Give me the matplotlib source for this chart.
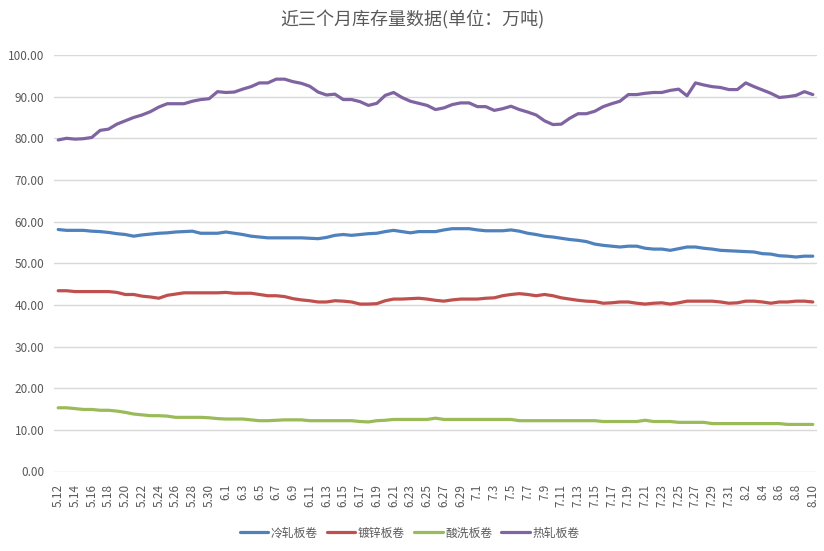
import matplotlib.pyplot as plt
import numpy as np
import pandas as pd

plt.rcParams['font.family'] = ['Noto Sans CJK SC', 'DejaVu Sans']

# daily dates 5.12 -> 8.10
dates = pd.date_range("2020-05-12", "2020-08-10", freq="D")
date_labels = [f"{d.month}.{d.day}" for d in dates]

series_names = ["冷轧板卷", "镀锌板卷", "酸洗板卷", "热轧板卷"]

cold_rolled = [58.1, 57.9, 57.9, 57.9, 57.7, 57.6, 57.4, 57.1, 56.9, 56.5, 56.8, 57.0, 57.2, 57.3, 57.5, 57.6,
               57.7, 57.2, 57.2, 57.2, 57.5, 57.2, 56.9, 56.5, 56.3, 56.1, 56.1, 56.1, 56.1, 56.1, 56.0,
               55.9, 56.2, 56.7, 56.9, 56.7, 56.9, 57.1, 57.2, 57.6, 57.9, 57.6, 57.3, 57.6, 57.6, 57.6, 58.0,
               58.3, 58.3, 58.3, 58.0, 57.8, 57.8, 57.8, 58.0, 57.7, 57.2, 56.9, 56.5, 56.3, 56.0, 55.7, 55.5,
               55.2, 54.6, 54.3, 54.1, 53.9, 54.1, 54.1, 53.6, 53.4, 53.4, 53.1, 53.5, 53.9, 53.9, 53.6, 53.4,
               53.1, 53.0, 52.9, 52.8, 52.7, 52.3, 52.2, 51.8, 51.7, 51.5, 51.7, 51.7]

galvanized = [43.4, 43.4, 43.2, 43.2, 43.2, 43.2, 43.2, 43.0, 42.5, 42.5, 42.1, 41.9, 41.6, 42.3, 42.6, 42.9,
              42.9, 42.9, 42.9, 42.9, 43.0, 42.8, 42.8, 42.8, 42.5, 42.2, 42.2, 42.0, 41.5, 41.2, 41.0,
              40.7, 40.7, 41.0, 40.9, 40.7, 40.2, 40.2, 40.3, 41.0, 41.4, 41.4, 41.5, 41.6, 41.4, 41.1, 40.9,
              41.2, 41.4, 41.4, 41.4, 41.6, 41.7, 42.2, 42.5, 42.7, 42.5, 42.2, 42.5, 42.2, 41.7, 41.4, 41.1,
              40.9, 40.8, 40.4, 40.5, 40.7, 40.7, 40.4, 40.2, 40.4, 40.5, 40.2, 40.5, 40.9, 40.9, 40.9, 40.9,
              40.7, 40.4, 40.5, 40.9, 40.9, 40.7, 40.4, 40.7, 40.7, 40.9, 40.9, 40.7]

pickled = [15.3, 15.3, 15.1, 14.9, 14.9, 14.7, 14.7, 14.5, 14.2, 13.8, 13.6, 13.4, 13.4, 13.3, 13.0, 13.0,
           13.0, 13.0, 12.9, 12.7, 12.6, 12.6, 12.6, 12.4, 12.2, 12.2, 12.3, 12.4, 12.4, 12.4, 12.2,
           12.2, 12.2, 12.2, 12.2, 12.2, 12.0, 11.9, 12.2, 12.3, 12.5, 12.5, 12.5, 12.5, 12.5, 12.8,
           12.5, 12.5, 12.5, 12.5, 12.5, 12.5, 12.5, 12.5, 12.5, 12.2, 12.2, 12.2, 12.2, 12.2, 12.2,
           12.2, 12.2, 12.2, 12.2, 12.0, 12.0, 12.0, 12.0, 12.0, 12.3, 12.0, 12.0, 12.0, 11.8, 11.8,
           11.8, 11.8, 11.5, 11.5, 11.5, 11.5, 11.5, 11.5, 11.5, 11.5, 11.5, 11.3, 11.3, 11.3, 11.3]

hot_rolled = [79.6, 80.0, 79.8, 79.9, 80.2, 81.9, 82.2, 83.4, 84.2, 85.0, 85.6, 86.4, 87.5, 88.3, 88.3, 88.3,
              88.9, 89.3, 89.5, 91.2, 91.0, 91.1, 91.8, 92.4, 93.3, 93.3, 94.2, 94.2, 93.6, 93.2, 92.5,
              91.1, 90.4, 90.6, 89.3, 89.3, 88.8, 87.9, 88.4, 90.3, 91.0, 89.8, 88.9, 88.4, 87.9, 86.9, 87.3,
              88.1, 88.5, 88.5, 87.6, 87.6, 86.7, 87.1, 87.7, 86.9, 86.3, 85.6, 84.2, 83.3, 83.4, 84.8, 85.9,
              85.9, 86.5, 87.6, 88.3, 88.9, 90.5, 90.5, 90.8, 91.0, 91.0, 91.5, 91.8, 90.2, 93.3, 92.8, 92.4,
              92.2, 91.7, 91.7, 93.3, 92.4, 91.6, 90.8, 89.8, 90.0, 90.3, 91.2, 90.5]

colors = ["#4F81BD", "#C0504D", "#9BBB59", "#8064A2"]
grey = "#595959"

fig = plt.figure(figsize=(8.24, 5.51), dpi=100)
ax = fig.add_axes([54 / 824, 1 - 471.5 / 551, (817 - 54) / 824, (471.5 - 55) / 551])

x = np.arange(len(date_labels))
for name, vals, c in zip(series_names, [cold_rolled, galvanized, pickled, hot_rolled], colors):
    ax.plot(x, vals, color=c, linewidth=2.3, label=name, solid_capstyle="round")

ax.set_xlim(-0.5, len(date_labels) - 0.5)
ax.set_ylim(0, 100)
ax.set_yticks(np.arange(0, 101, 10))
ax.set_yticklabels([f"{v:.2f}" for v in np.arange(0, 101, 10)])
ax.set_xticks(x[::2])
ax.set_xticklabels(date_labels[::2], rotation=90)

ax.grid(axis="y", color="#D9D9D9", linewidth=1)
ax.set_axisbelow(True)
for s in ax.spines.values():
    s.set_visible(False)
ax.tick_params(axis="both", length=0, labelcolor=grey, labelsize=8.5)
ax.tick_params(axis="y", pad=7)
ax.tick_params(axis="x", pad=9)

fig.suptitle("近三个月库存量数据(单位：万吨)", x=0.5, y=1 - 20 / 551, va="center",
             fontsize=13, color=grey)

fig.legend(loc="center", bbox_to_anchor=(0.497, 1 - 533 / 551), ncol=4, frameon=False,
           fontsize=8.5, handlelength=2.4, handletextpad=0.2, columnspacing=0.8,
           labelcolor=grey)

fig.savefig("out.png", dpi=100)
